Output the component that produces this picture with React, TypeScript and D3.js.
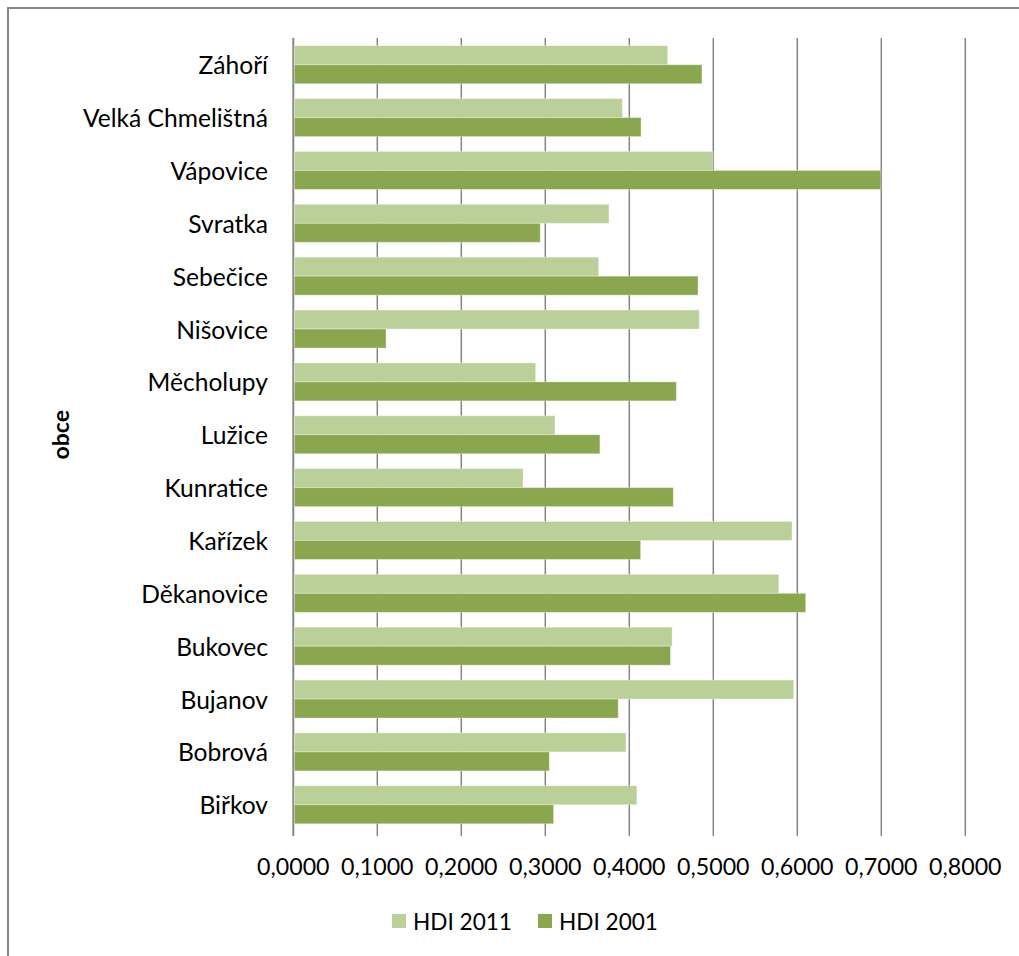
import React from 'react';
import * as d3 from 'd3';

const categories = ['Záhoří', 'Velká Chmelištná', 'Vápovice', 'Svratka', 'Sebečice', 'Nišovice', 'Měcholupy', 'Lužice', 'Kunratice', 'Kařízek', 'Děkanovice', 'Bukovec', 'Bujanov', 'Bobrová', 'Biřkov'];
const hdi2011 = [0.4457, 0.3917, 0.4997, 0.3758, 0.3635, 0.4833, 0.2885, 0.3115, 0.2735, 0.5937, 0.578, 0.451, 0.5957, 0.396, 0.409];
const hdi2001 = [0.4865, 0.414, 0.6996, 0.294, 0.4818, 0.1104, 0.456, 0.365, 0.4524, 0.4135, 0.610, 0.449, 0.3868, 0.3048, 0.3099];
const seriesNames = ['HDI 2011', 'HDI 2001'];
const seriesColors = ['#BBCF98', '#8AA64E'];
const xTicks = [0, 0.1, 0.2, 0.3, 0.4, 0.5, 0.6, 0.7, 0.8];
const axisTitle = 'obce';

const FONT = 'Lato, Carlito, Calibri, sans-serif';

export default function App() {
  const W = 1019, H = 956;
  const x = d3.scaleLinear().domain([0, 0.8]).range([293.3, 965.3]);
  const y = d3.scaleBand<string>().domain(categories).range([38.3, 831.2]);
  const bw = y.bandwidth();
  const barH = 19;
  const ySub = d3.scaleBand<string>().domain(seriesNames).range([(bw - 2 * barH) / 2, (bw + 2 * barH) / 2]);
  const fmt = (v: number) => v.toFixed(4).replace('.', ',');
  const series = [hdi2011, hdi2001];
  const gridTop = 38, gridBottom = 836;

  return (
    <svg width={W} height={H} style={{ position: 'absolute', left: 0, top: 0, background: '#fff' }} fontFamily={FONT}>
      <rect x={0} y={0} width={W} height={H} fill="#fff" />
      <rect x={8} y={8} width={1040} height={980} fill="none" stroke="#868686" strokeWidth={2} />
      {xTicks.map((t) => (
        <line key={'g' + t} x1={x(t)} x2={x(t)} y1={gridTop} y2={gridBottom} stroke="#868686" strokeWidth={t === 0 ? 2 : 1.5} />
      ))}
      {categories.map((c, i) => (
        <g key={c} transform={`translate(0,${y(c)})`}>
          {series.map((s, j) => (
            <rect key={j} x={x(0) + 1} y={ySub(seriesNames[j])} width={x(s[i]) - x(0) - 1} height={barH}
              fill={seriesColors[j]} stroke="rgba(255,255,255,0.35)" strokeWidth={1} />
          ))}
          <text x={268} y={bw / 2} textAnchor="end" dominantBaseline="central" fontSize={24.6} fill="#000">{c}</text>
        </g>
      ))}
      {xTicks.map((t) => (
        <text key={'t' + t} x={x(t)} y={866} textAnchor="middle" dominantBaseline="central" fontSize={23.2} fill="#000">{fmt(t)}</text>
      ))}
      <text transform={`translate(60,${(38.3 + 831.2) / 2}) rotate(-90)`} textAnchor="middle" dominantBaseline="central" fontSize={23} fontWeight="bold" fill="#000">{axisTitle}</text>
      {seriesNames.map((n, j) => {
        const lx = j === 0 ? 392 : 538;
        return (
          <g key={n}>
            <rect x={lx} y={914} width={14} height={14} fill={seriesColors[j]} />
            <text x={lx + 21} y={921} dominantBaseline="central" fontSize={22.6} fill="#000">{n}</text>
          </g>
        );
      })}
    </svg>
  );
}
